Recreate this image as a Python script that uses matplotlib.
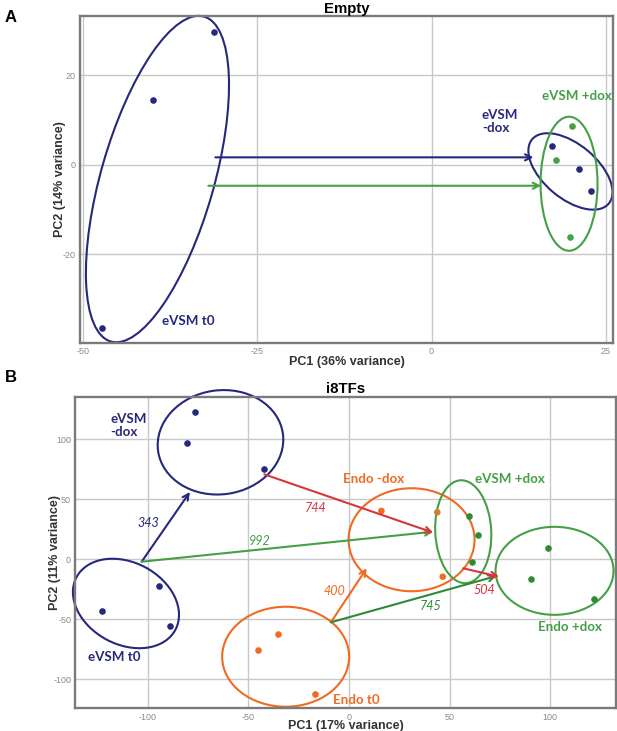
import matplotlib.pyplot as plt
from matplotlib.patches import Ellipse
from matplotlib.transforms import ScaledTranslation

plt.rcParams['axes.unicode_minus'] = False

# couleurs
navy = '#26287c'
green = '#45a045'
dkgreen = '#2f8a35'
orange = '#f16a22'
red = '#d8353f'
grey = '#8a8a8a'

# ---- Panel A : Empty ----
a_t0_x = [-31.2, -39.9, -47.3]
a_t0_y = [29.8, 14.5, -36.6]
a_mdox_x = [17.3, 21.1, 22.8]
a_mdox_y = [4.2, -1.0, -5.8]
a_pdox_x = [20.1, 17.9, 19.9]
a_pdox_y = [8.7, 1.0, -16.2]
a_xticks = [-50, -25, 0, 25]
a_yticks = [-20, 0, 20]

# ---- Panel B : i8TFs ----
b_t0_x = [-94.6, -122.7, -88.9]
b_t0_y = [-22.0, -43.3, -55.8]
b_mdox_x = [-76.6, -80.6, -42.1]
b_mdox_y = [123.0, 97.2, 75.0]
b_endo0_x = [-35.3, -45.4, -17.1]
b_endo0_y = [-62.3, -75.6, -112.0]
b_endom_x = [16.1, 43.9, 46.6]
b_endom_y = [40.3, 39.2, -14.5]
b_evp_x = [59.7, 64.1, 61.2]
b_evp_y = [36.3, 20.3, -2.5]
b_endop_x = [99.0, 90.7, 121.8]
b_endop_y = [9.2, -16.4, -32.8]
b_xticks = [-100, -50, 0, 50, 100]
b_yticks = [-100, -50, 0, 50, 100]

# fleches : (depart, arrivee, couleur, label, position label)
a_arrows = [((-31.0, 1.66), (14.6, 1.66), navy),
            ((-32.0, -4.7), (15.7, -4.7), green)]
b_arrows = [((-103.1, -2.0), (-79.1, 56.1), navy, '343', (-99.7, 30.0)),
            ((-103.1, -2.0), (41.9, 23.0), green, '992', (-44.3, 15.5)),
            ((-42.1, 70.8), (41.9, 22.2), red, '744', (-16.4, 43.0)),
            ((-9.0, -52.5), (8.8, -7.5), orange, '400', (-7.3, -26.4)),
            ((-9.0, -52.5), (73.4, -13.9), dkgreen, '745', (40.6, -38.9)),
            ((56.8, -7.5), (74.6, -14.5), red, '504', (67.3, -25.6))]

fig = plt.figure(figsize=(6.17, 7.31), dpi=100)
axA = fig.add_axes([0.1297, 0.5308, 0.8638, 0.4473])
axB = fig.add_axes([0.122, 0.031, 0.8759, 0.4263])


def style(ax, xt, yt, xl, yl):
    ax.set_xticks(xt)
    ax.set_yticks(yt)
    ax.set_xlim(*xl)
    ax.set_ylim(*yl)
    ax.grid(True, color='#c8c8c8', lw=1.0)
    ax.set_axisbelow(True)
    ax.tick_params(length=0, labelsize=6.5, labelcolor=grey)
    ax.tick_params(axis='x', pad=3)
    ax.tick_params(axis='y', pad=3)
    for s in ax.spines.values():
        s.set_color('#7a7a7a')
        s.set_linewidth(1.7)
    for lab in ax.get_xticklabels() + ax.get_yticklabels():
        lab.set_family('Liberation Sans')


def ell(ax, cx, cy, w, h, ang, c):
    # taille en pixels, centre en coordonnees des donnees
    tr = fig.dpi_scale_trans + ScaledTranslation(cx, cy, ax.transData)
    ax.add_patch(Ellipse((0, 0), w / 100, h / 100, angle=ang, transform=tr,
                         fill=False, ec=c, lw=1.5, clip_on=False))


def arrow(ax, p0, p1, c):
    ax.annotate('', xy=p1, xytext=p0,
                arrowprops=dict(arrowstyle='->', color=c, lw=1.5,
                                shrinkA=0, shrinkB=0, mutation_scale=11))


lblfont = dict(family='Lato', fontweight='bold', fontsize=9.6, va='center')
axfont = dict(family='Liberation Sans', fontweight='bold', fontsize=9, color='#333333')

# Panel A
style(axA, a_xticks, a_yticks, (-50.4, 26.0), (-39.9, 33.3))
axA.scatter(a_t0_x, a_t0_y, s=14, color=navy, zorder=3)
axA.scatter(a_mdox_x, a_mdox_y, s=14, color=navy, zorder=3)
axA.scatter(a_pdox_x, a_pdox_y, s=14, color=green, zorder=3)
ell(axA, -39.3, -3.2, 338, 113, 74, navy)
ell(axA, 19.9, -1.5, 100, 54, -40, navy)
ell(axA, 19.7, -4.25, 57, 134, 0, green)
for p0, p1, c in a_arrows:
    arrow(axA, p0, p1, c)
axA.text(-38.6, -34.9, 'eVSM t0', color=navy, **lblfont)
axA.text(7.2, 9.6, 'eVSM\n-dox', color=navy, linespacing=1.1, **lblfont)
axA.text(15.8, 15.4, 'eVSM +dox', color=green, **lblfont)
axA.set_title('Empty', fontsize=10.8, fontweight='bold', family='Liberation Sans', pad=1)
axA.set_xlabel('PC1 (36% variance)', labelpad=0, **axfont)
axA.set_ylabel('PC2 (14% variance)', labelpad=-2, **axfont)

# Panel B
style(axB, b_xticks, b_yticks, (-136.1, 132.6), (-124.2, 135.5))
axB.scatter(b_t0_x, b_t0_y, s=14, color=navy, zorder=3)
axB.scatter(b_mdox_x, b_mdox_y, s=14, color=navy, zorder=3)
axB.scatter(b_endo0_x, b_endo0_y, s=14, color=orange, zorder=3)
axB.scatter(b_endom_x, b_endom_y, s=14, color=[orange, '#d2802e', orange], zorder=3)
axB.scatter(b_evp_x, b_evp_y, s=14, color=dkgreen, zorder=3)
axB.scatter(b_endop_x, b_endop_y, s=14, color=dkgreen, zorder=3)
ell(axB, -63.9, 97.5, 126, 104, 8, navy)
ell(axB, -110.9, -36.8, 112, 82, -28, navy)
ell(axB, -31.5, -81.2, 127, 100, 0, orange)
ell(axB, 31.1, 16.3, 126, 103, 0, orange)
ell(axB, 56.8, 23.0, 56, 103, 3, green)
ell(axB, 102.2, -9.6, 118, 88, 0, green)
for p0, p1, c, t, pos in b_arrows:
    arrow(axB, p0, p1, c)
    axB.text(pos[0], pos[1], t, color=c, family='Lato', style='italic',
             fontsize=9, ha='center', va='center')
axB.text(-118.5, 111.5, 'eVSM\n-dox', color=navy, linespacing=1.1, **lblfont)
axB.text(-130.0, -81.0, 'eVSM t0', color=navy, **lblfont)
axB.text(-8.0, -117.0, 'Endo t0', color=orange, **lblfont)
axB.text(-3.2, 67.0, 'Endo -dox', color=orange, **lblfont)
axB.text(62.5, 67.0, 'eVSM +dox', color=green, **lblfont)
axB.text(94.0, -56.0, 'Endo +dox', color=green, **lblfont)
axB.set_title('i8TFs', fontsize=10.8, fontweight='bold', family='Liberation Sans', pad=3)
axB.set_xlabel('PC1 (17% variance)', labelpad=-1, **axfont)
axB.set_ylabel('PC2 (11% variance)', labelpad=-6, **axfont)

fig.text(0.008, 0.986, 'A', fontsize=12, fontweight='bold', family='Liberation Sans', va='top')
fig.text(0.008, 0.494, 'B', fontsize=12, fontweight='bold', family='Liberation Sans', va='top')

fig.savefig('out.png', dpi=100)
